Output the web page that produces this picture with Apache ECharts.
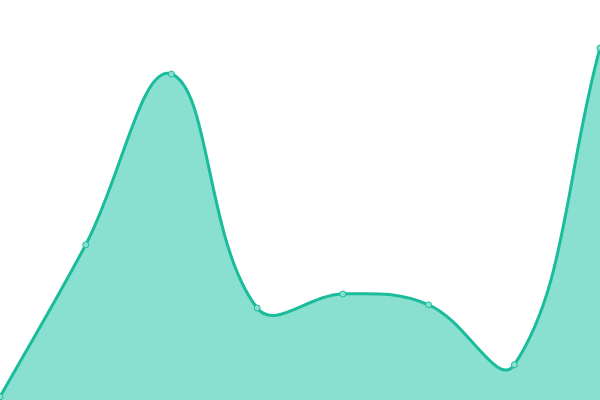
<!DOCTYPE html>
<html>
<head>
<meta charset="UTF-8">
<script src="https://cdn.jsdelivr.net/npm/echarts@6/dist/echarts.min.js"></script>
<style>
  html, body { margin: 0; padding: 0; background: #fff; }
  #main { width: 600px; height: 400px; }
</style>
</head>
<body>
<div id="main"></div>
<script type="text/javascript">
// 数据
var categories = ['1', '2', '3', '4', '5', '6', '7', '8'];
var values = [0.8, 38.8, 81.5, 23, 26.5, 23.8, 8.8, 88];

var lineColor = '#1abc9c';
var fillColor = '#8ae0d0';
var tension = 0.4;

// 不加约束的样条曲线（允许超出数据点，像原图一样有下凹）
function splinePath(api) {
  var pts = [];
  for (var i = 0; i < values.length; i++) {
    pts.push(api.coord([i, values[i]]));
  }
  var cps = [];
  for (var i = 0; i < pts.length; i++) {
    var prev = pts[i - 1] || pts[i];
    var cur = pts[i];
    var next = pts[i + 1] || pts[i];
    var d01 = Math.hypot(cur[0] - prev[0], cur[1] - prev[1]);
    var d12 = Math.hypot(next[0] - cur[0], next[1] - cur[1]);
    var s01 = d01 / (d01 + d12) || 0;
    var s12 = d12 / (d01 + d12) || 0;
    var fa = tension * s01, fb = tension * s12;
    cps.push({
      prev: [cur[0] - fa * (next[0] - prev[0]), cur[1] - fa * (next[1] - prev[1])],
      next: [cur[0] + fb * (next[0] - prev[0]), cur[1] + fb * (next[1] - prev[1])]
    });
  }
  var d = 'M' + pts[0][0] + ' ' + pts[0][1];
  for (var i = 1; i < pts.length; i++) {
    var a = cps[i - 1].next, b = cps[i].prev;
    d += ' C' + a[0] + ' ' + a[1] + ' ' + b[0] + ' ' + b[1] + ' ' + pts[i][0] + ' ' + pts[i][1];
  }
  return { pts: pts, d: d };
}

var chart = echarts.init(document.getElementById('main'));
chart.setOption({
  animation: false,
  grid: { left: 0, right: 0, top: 0, bottom: 0 },
  xAxis: {
    type: 'category',
    data: categories,
    boundaryGap: false,
    show: false
  },
  yAxis: {
    type: 'value',
    min: 0,
    max: 100,
    show: false
  },
  series: [{
    type: 'custom',
    z: 2,
    data: values.map(function (v, i) { return [i, v]; }),
    renderItem: function (params, api) {
      if (params.dataIndex !== 0) return null;
      var s = splinePath(api);
      var base = api.coord([0, 0])[1];
      var last = s.pts[s.pts.length - 1];
      var area = s.d + ' L' + last[0] + ' ' + base + ' L' + s.pts[0][0] + ' ' + base + ' Z';
      return {
        type: 'group',
        children: [{
          type: 'path',
          shape: { pathData: area },
          style: { fill: fillColor, stroke: null }
        }, {
          type: 'path',
          shape: { pathData: s.d },
          style: { fill: null, stroke: lineColor, lineWidth: 3 }
        }]
      };
    }
  }, {
    type: 'line',
    z: 3,
    data: values,
    symbol: 'circle',
    symbolSize: 6,
    itemStyle: { color: fillColor, borderColor: lineColor, borderWidth: 1 },
    lineStyle: { opacity: 0 }
  }]
});
</script>
</body>
</html>
